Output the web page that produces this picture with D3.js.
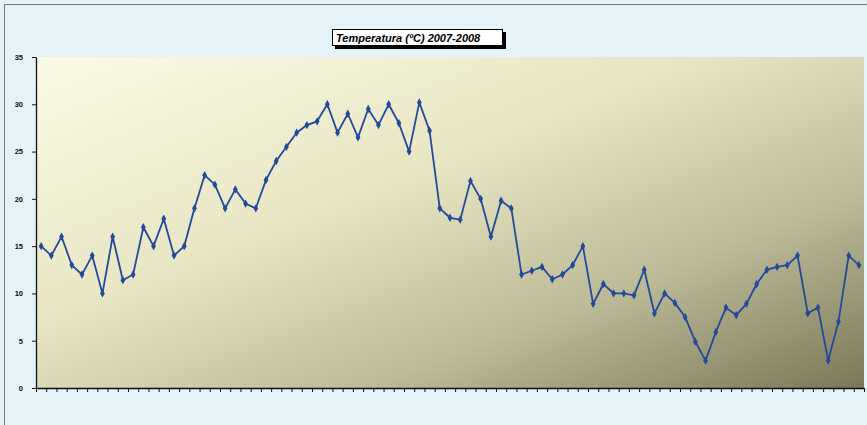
<!DOCTYPE html>
<html>
<head>
<meta charset="utf-8">
<script src="https://cdnjs.cloudflare.com/ajax/libs/d3/7.8.5/d3.min.js"></script>
<style>
	body { margin: 0; background: #e5f2f7; }
	svg { display: block; }
	.yAxis text { font: bold 7.5px "Liberation Sans", Arial, sans-serif; fill: #111; }
</style>
</head>
<body>
<svg id="graph" width="867" height="425"></svg>
<script>
var graph;
const width = 867;
const height = 425;
const margin = {top: 57, bottom: 37, left: 36, right: 3};

const title = "Temperatura (ºC) 2007-2008";
// one reading per category
const temperatures = [
	15, 14, 16, 13, 12, 14, 10, 16, 11.4, 12,
	17, 15, 17.9, 14, 15, 19, 22.5, 21.5, 19, 21,
	19.5, 19, 22, 24, 25.5, 27, 27.8, 28.2, 30, 27,
	29, 26.5, 29.5, 27.8, 30, 28, 25, 30.2, 27.2, 19,
	18, 17.8, 21.9, 20, 16, 19.8, 19, 12, 12.4, 12.8,
	11.5, 12, 13, 15, 8.9, 11, 10, 10, 9.8, 12.5,
	7.9, 10, 9, 7.5, 4.9, 2.9, 5.9, 8.5, 7.7, 8.9,
	11, 12.5, 12.8, 13, 14, 7.9, 8.5, 2.9, 7, 14,
	13
];
const categories = d3.range(1, temperatures.length + 1);
const yTicks = [0, 5, 10, 15, 20, 25, 30, 35];

var x, y;

graph = d3.select("#graph")
	.attr("viewBox", [0, 0, width, height]);

x = d3.scaleLinear()
	.domain([0, categories.length])
	.range([margin.left, width - margin.right]);

y = d3.scaleLinear()
	.domain([0, 35])
	.range([height - margin.bottom, margin.top]);

//chart frame
graph.append("rect")
	.attr("x", 4.5)
	.attr("y", 4.5)
	.attr("width", width + 10)
	.attr("height", height + 10)
	.attr("fill", "#e5f2f7")
	.attr("stroke", "#7a7a7a")
	.attr("stroke-width", 1);

//plot area gradient
var defs = graph.append("defs");
var grad = defs.append("linearGradient")
	.attr("id", "plotFill")
	.attr("x1", 0).attr("y1", 0)
	.attr("x2", 1).attr("y2", 1);
grad.append("stop").attr("offset", 0).attr("stop-color", "#fbfae7");
grad.append("stop").attr("offset", 0.4).attr("stop-color", "#e8e6c3");
grad.append("stop").attr("offset", 0.7).attr("stop-color", "#bdbb98");
grad.append("stop").attr("offset", 1).attr("stop-color", "#7b7859");

graph.append("rect")
	.attr("x", x(0))
	.attr("y", y(35))
	.attr("width", x(categories.length) - x(0))
	.attr("height", y(0) - y(35))
	.attr("fill", "url(#plotFill)");

drawAxes();
drawLine();
drawTitle();

function drawAxes(){
	var xAxis = d3.axisBottom(x)
		.tickValues(d3.range(categories.length + 1))
		.tickFormat("")
		.tickSize(4)
		.tickSizeOuter(0);
	var yAxis = d3.axisLeft(y)
		.tickValues(yTicks)
		.tickSize(4)
		.tickSizeOuter(0)
		.tickPadding(9);

	//draw y-axis
	graph.append("g")
		.attr("class", "yAxis")
		.attr("transform", "translate(" + x(0) + ",0)")
		.call(yAxis);

	//draw x-axis
	graph.append("g")
		.attr("class", "xAxis")
		.attr("transform", "translate(0," + y(0) + ")")
		.call(xAxis);

	graph.selectAll(".xAxis path, .yAxis path")
		.attr("stroke", "#111")
		.attr("stroke-width", 1.3);
	graph.selectAll(".xAxis line, .yAxis line")
		.attr("stroke", "#111");
}

function drawLine(){
	var line = d3.line()
		.x((d, i) => x(i + 0.5))
		.y(d => y(d));

	graph.append("path")
		.datum(temperatures)
		.attr("fill", "none")
		.attr("stroke", "#24499a")
		.attr("stroke-width", 1.8)
		.attr("stroke-linejoin", "round")
		.attr("d", line);

	//diamond markers
	graph.selectAll(".marker")
		.data(temperatures)
		.enter()
		.append("path")
			.attr("class", "marker")
			.attr("fill", "#24499a")
			.attr("d", d3.symbol().type(d3.symbolDiamond).size(20))
			.attr("transform", (d, i) => "translate(" + x(i + 0.5) + "," + y(d) + ")");
}

function drawTitle(){
	var box = graph.append("g")
		.attr("transform", "translate(332,29)");
	//shadow
	box.append("rect")
		.attr("x", 3)
		.attr("y", 3)
		.attr("width", 171)
		.attr("height", 17)
		.attr("fill", "#000");
	box.append("rect")
		.attr("x", 0.5)
		.attr("y", 0.5)
		.attr("width", 170)
		.attr("height", 16)
		.attr("fill", "#fff")
		.attr("stroke", "#000")
		.attr("stroke-width", 1);
	box.append("text")
		.attr("x", 4)
		.attr("y", 12.5)
		.style("font", "italic bold 11px 'Liberation Sans', Arial, sans-serif")
		.attr("fill", "#000")
		.text(title);
}
</script>
</body>
</html>
